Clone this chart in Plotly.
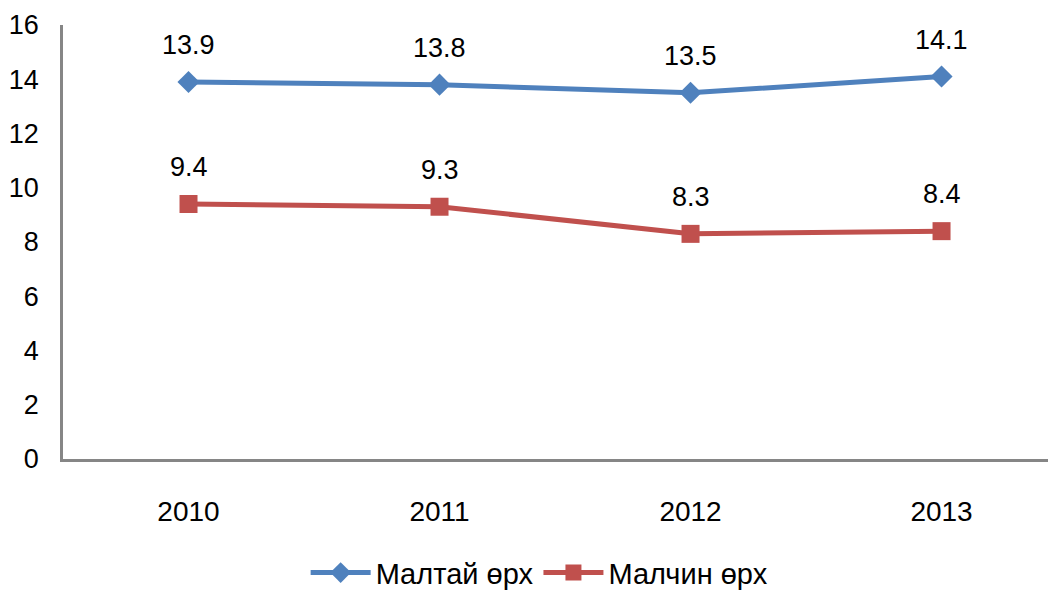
import plotly.graph_objects as go

years = ["2010", "2011", "2012", "2013"]
series_names = ["Малтай өрх", "Малчин өрх"]
maltai = [13.9, 13.8, 13.5, 14.1]
malchin = [9.4, 9.3, 8.3, 8.4]
y_ticks = [0, 2, 4, 6, 8, 10, 12, 14, 16]

BLUE = "#4F81BD"
RED = "#C0504D"
FONT = "Liberation Sans, Arial, sans-serif"

fig = go.Figure()
fig.add_trace(go.Scatter(
    x=years, y=maltai, name=series_names[0], mode="lines+markers",
    line=dict(color=BLUE, width=5),
    marker=dict(symbol="diamond", size=17, color=BLUE),
))
fig.add_trace(go.Scatter(
    x=years, y=malchin, name=series_names[1], mode="lines+markers",
    line=dict(color=RED, width=5),
    marker=dict(symbol="square", size=18, color=RED),
))

for vals in (maltai, malchin):
    for i, yv in enumerate(vals):
        fig.add_annotation(x=i, y=yv, xref="x", yref="y", text=f"{yv:.1f}", showarrow=False,
                           yshift=37, font=dict(size=27, color="black", family=FONT))

# page body has an 8px default margin, so the figure is 8px smaller and offset
fig.update_layout(
    width=1048, height=585,
    margin=dict(l=55, r=0, t=17, b=134, autoexpand=False),
    paper_bgcolor="white", plot_bgcolor="white",
    font=dict(family=FONT, color="black"),
    showlegend=True,
    legend=dict(orientation="h", x=0.48, xanchor="center", y=-0.262, yanchor="middle",
                font=dict(size=29, family=FONT), itemwidth=60, traceorder="normal"),
)
fig.update_xaxes(
    type="category", range=[-0.5, 3.456], showgrid=False, zeroline=False,
    showline=True, linecolor="#868686", linewidth=2.5, automargin=False,
    tickfont=dict(size=28, family=FONT), ticks="", ticklabelstandoff=26,
)
fig.update_yaxes(
    range=[0, 16], tickvals=y_ticks, showgrid=False, zeroline=False,
    showline=True, linecolor="#868686", linewidth=2.5, automargin=False,
    tickfont=dict(size=27, family=FONT), ticks="", ticklabelstandoff=16,
)

fig.write_html("out.html")
